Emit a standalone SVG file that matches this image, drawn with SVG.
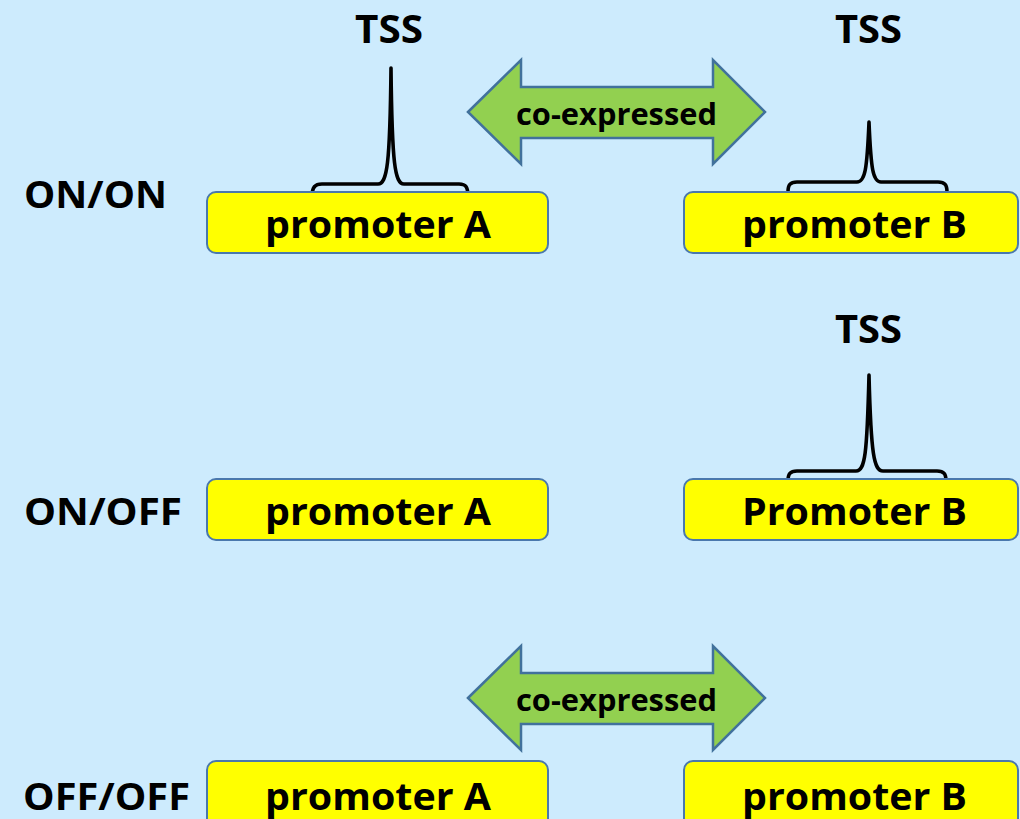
<svg xmlns="http://www.w3.org/2000/svg" width="1020" height="819" viewBox="0 0 1020 819">
<style>
.box{fill:#ffff00;stroke:#4a78ad;stroke-width:2}
.arr{fill:#92d050;stroke:#41719c;stroke-width:2.5;stroke-linejoin:miter}
.peak{fill:none;stroke:#000;stroke-width:3.6;stroke-linejoin:round;stroke-linecap:round}
text{font-family:"Open Sans","Liberation Sans",sans-serif;font-weight:bold;fill:#000}
.big{font-size:37px}
.lab{font-size:38px}
.tss{font-size:39px}
.mid{font-size:30px}
</style>
<rect width="1020" height="819" fill="#cdebfd"/>
<g id="labels">
<text class="lab" x="24" y="208" textLength="143" lengthAdjust="spacingAndGlyphs">ON/ON</text>
<text class="lab" x="24" y="525" textLength="158" lengthAdjust="spacingAndGlyphs">ON/OFF</text>
<text class="lab" x="23" y="810" textLength="167" lengthAdjust="spacingAndGlyphs">OFF/OFF</text>
</g>
<g id="connectors">
<g id="arrow1">
<polygon class="arr" points="468,112 521,60 521,87 713,87 713,60 765,112 713,164 713,138 521,138 521,164"/>
<text class="mid" x="516" y="125" textLength="201" lengthAdjust="spacingAndGlyphs">co-expressed</text>
</g>
<g id="arrow3">
<polygon class="arr" points="468,698 521,646 521,673 713,673 713,646 765,698 713,750 713,724 521,724 521,750"/>
<text class="mid" x="516" y="711" textLength="201" lengthAdjust="spacingAndGlyphs">co-expressed</text>
</g>
</g>
<g id="row1-A">
<path class="peak" d="M312,197 C312,187 315,184 322,184 L378,184 C387,184 390,165 391,68 C392,165 395,184 404,184 L459,184 C466,184 468,187 468,197"/>
<text class="tss" x="355" y="43" textLength="68" lengthAdjust="spacingAndGlyphs">TSS</text>
<rect class="box" x="207" y="192" width="341" height="61" rx="9"/>
<text class="big" x="265" y="238" textLength="226" lengthAdjust="spacingAndGlyphs">promoter A</text>
</g>
<g id="row1-B">
<path class="peak" d="M788,192 C788,185 790,182 797,182 L857,182 C865,182 867,170 869,122 C871,170 873,182 881,182 L938,182 C945,182 947,185 947,192"/>
<text class="tss" x="835" y="43" textLength="67" lengthAdjust="spacingAndGlyphs">TSS</text>
<rect class="box" x="684" y="192" width="334" height="61" rx="9"/>
<text class="big" x="742" y="238" textLength="225" lengthAdjust="spacingAndGlyphs">promoter B</text>
</g>
<g id="row2-A">
<rect class="box" x="207" y="479" width="341" height="61" rx="9"/>
<text class="big" x="265" y="525" textLength="226" lengthAdjust="spacingAndGlyphs">promoter A</text>
</g>
<g id="row2-B">
<path class="peak" d="M788,481 C788,474 790,471 797,471 L856,471 C865,471 867,455 869,375 C871,455 874,471 883,471 L937,471 C944,471 946,474 946,481"/>
<text class="tss" x="835" y="343" textLength="67" lengthAdjust="spacingAndGlyphs">TSS</text>
<rect class="box" x="684" y="479" width="334" height="61" rx="9"/>
<text class="big" x="742" y="525" textLength="225" lengthAdjust="spacingAndGlyphs">Promoter B</text>
</g>
<g id="row3-A">
<rect class="box" x="207" y="761" width="341" height="70" rx="9"/>
<text class="big" x="265" y="810" textLength="226" lengthAdjust="spacingAndGlyphs">promoter A</text>
</g>
<g id="row3-B">
<rect class="box" x="684" y="761" width="334" height="70" rx="9"/>
<text class="big" x="742" y="810" textLength="225" lengthAdjust="spacingAndGlyphs">promoter B</text>
</g>
</svg>
